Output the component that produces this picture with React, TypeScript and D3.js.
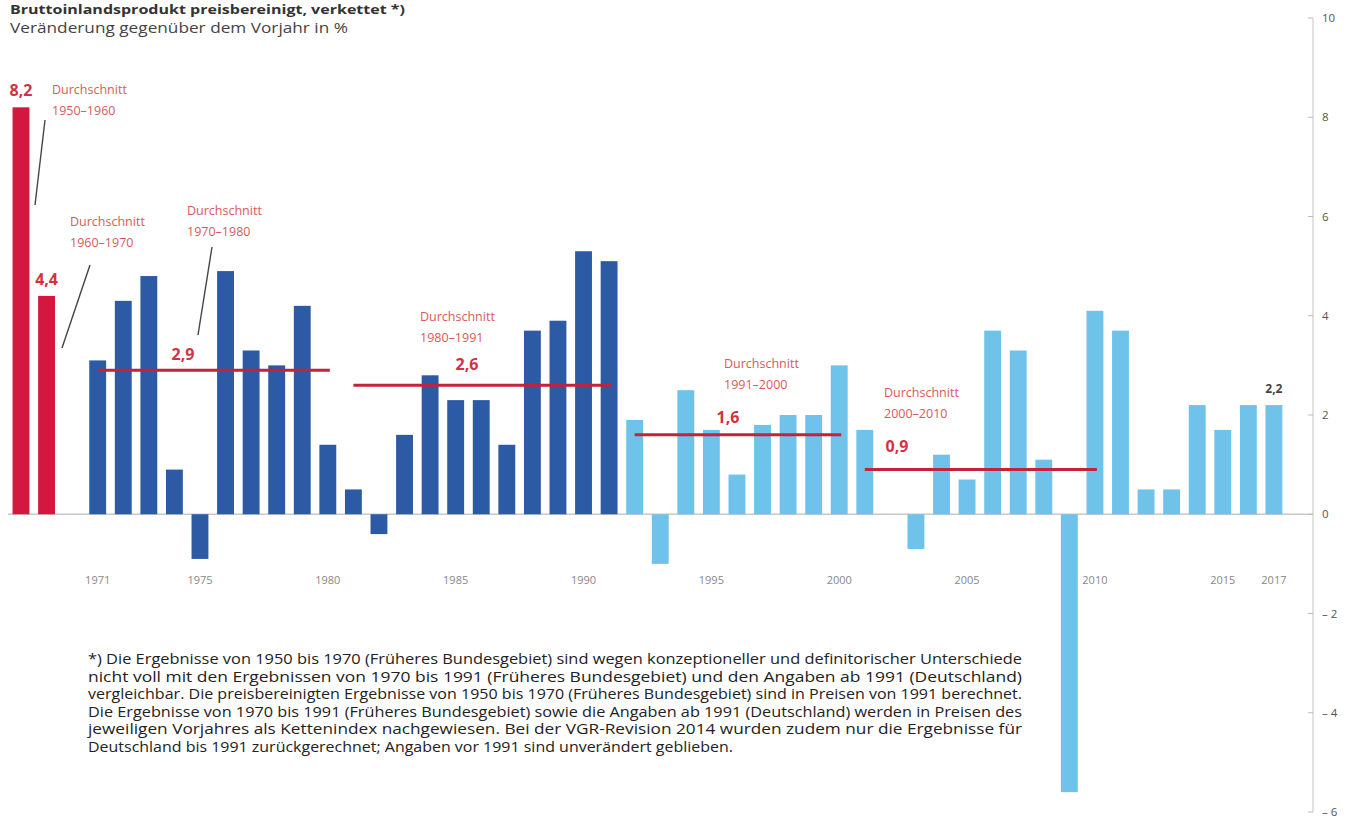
import * as d3 from 'd3';

// decade averages shown as the first two red bars
const earlyPeriods = ['1950–1960', '1960–1970'];
const earlyValues = [8.2, 4.4];

// yearly change in %, 1971–2017
const years = d3.range(1971, 2018).map(String);
const growth = [
  3.1, 4.3, 4.8, 0.9, -0.9, 4.9, 3.3, 3.0, 4.2, 1.4,
  0.5, -0.4, 1.6, 2.8, 2.3, 2.3, 1.4, 3.7, 3.9, 5.3,
  5.1, 1.9, -1.0, 2.5, 1.7, 0.8, 1.8, 2.0, 2.0, 3.0,
  1.7, 0.0, -0.7, 1.2, 0.7, 3.7, 3.3, 1.1, -5.6, 4.1,
  3.7, 0.5, 0.5, 2.2, 1.7, 2.2, 2.2,
];

// average lines
const avgPeriods = ['1970–1980', '1980–1991', '1991–2000', '2000–2010'];
const avgValues = [2.9, 2.6, 1.6, 0.9];
const avgFrom = ['1971', '1981', '1992', '2001'];
const avgTo = ['1980', '1991', '2000', '2010'];

const yTicks = [10, 8, 6, 4, 2, 0, -2, -4, -6];
const xTickYears = ['1971', '1975', '1980', '1985', '1990', '1995', '2000', '2005', '2010', '2015', '2017'];

const footnote = [
  '*) Die Ergebnisse von 1950 bis 1970 (Früheres Bundesgebiet) sind wegen konzeptioneller und definitorischer Unterschiede',
  'nicht voll mit den Ergebnissen von 1970 bis 1991 (Früheres Bundesgebiet) und den Angaben ab 1991 (Deutschland)',
  'vergleichbar. Die preisbereinigten Ergebnisse von 1950 bis 1970 (Früheres Bundesgebiet) sind in Preisen von 1991 berechnet.',
  'Die Ergebnisse von 1970 bis 1991 (Früheres Bundesgebiet) sowie die Angaben ab 1991 (Deutschland) werden in Preisen des',
  'jeweiligen Vorjahres als Kettenindex nachgewiesen. Bei der VGR-Revision 2014 wurden zudem nur die Ergebnisse für',
  'Deutschland bis 1991 zurückgerechnet; Angaben vor 1991 sind unverändert geblieben.',
];

const RED = '#d3173e';
const DARK = '#2d5aa5';
const LIGHT = '#6fc3ea';
const AVG = '#c4223a';
const LABEL_RED = '#d2323f';
const NOTE_RED = '#d65a5c';
const FONT = '"Open Sans", sans-serif';

// label placement (layout only)
const earlyLabelPos = [
  { vy: 96, tx: 52, ty: 94 },
  { vy: 285, tx: 70, ty: 226 },
];
const avgLabelPos = [
  { vx: 183, vy: 360, tx: 187, ty: 215 },
  { vx: 467, vy: 370, tx: 420, ty: 321 },
  { vx: 728, vy: 423, tx: 724, ty: 368 },
  { vx: 897, vy: 452, tx: 884, ty: 397 },
];
const leaders = [
  [45, 120, 35, 205],
  [90, 265, 62, 348],
  [212, 247, 198, 335],
];

export default function App() {
  const width = 1364;
  const height = 819;
  const categories = [...earlyPeriods, 'gap', ...years];

  const x = d3.scaleBand<string>()
    .domain(categories)
    .range([8.2, 1286.7])
    .paddingInner(0.34)
    .paddingOuter(0.17);
  const y = d3.scaleLinear().domain([-6, 10]).range([812, 18]);
  const bw = x.bandwidth();
  const cx = (k: string) => (x(k) ?? 0) + bw / 2;
  const axisX = 1313;

  const bars = [
    ...earlyPeriods.map((k, i) => ({ key: k, value: earlyValues[i], color: RED })),
    ...years.map((k, i) => ({ key: k, value: growth[i], color: +k <= 1991 ? DARK : LIGHT })),
  ];

  return (
    <svg width={width} height={height} style={{ position: 'absolute', left: 0, top: 0, background: '#fff' }} fontFamily={FONT}>
      {/* titles */}
      <text x={10} y={14} fontSize={13} fontWeight={700} fill="#333" textLength={395} lengthAdjust="spacingAndGlyphs">
        Bruttoinlandsprodukt preisbereinigt, verkettet *)
      </text>
      <text x={10} y={33} fontSize={15} fill="#444" textLength={338} lengthAdjust="spacingAndGlyphs">
        Veränderung gegenüber dem Vorjahr in %
      </text>

      {/* zero line */}
      <line x1={8} x2={axisX} y1={y(0)} y2={y(0)} stroke="#c8c8c8" strokeWidth={1.5} />

      {/* bars */}
      {bars.map(b => (
        <rect
          key={b.key}
          x={x(b.key)}
          y={y(Math.max(0, b.value))}
          width={bw}
          height={Math.abs(y(b.value) - y(0))}
          fill={b.color}
        />
      ))}

      {/* right axis */}
      <line x1={axisX} x2={axisX} y1={y(10)} y2={y(-6)} stroke="#cfcfcf" strokeWidth={1.2} />
      {yTicks.map(t => (
        <g key={t}>
          <line x1={axisX - 5} x2={axisX} y1={y(t)} y2={y(t)} stroke="#bbb" strokeWidth={1} />
          <text x={axisX + 9} y={y(t)} dy="0.35em" fontSize={11.5} fill="#555">
            {t < 0 ? `– ${Math.abs(t)}` : t}
          </text>
        </g>
      ))}

      {/* x labels */}
      {xTickYears.map(yr => (
        <text key={yr} x={cx(yr)} y={584} textAnchor="middle" fontSize={11} fill="#888">{yr}</text>
      ))}

      {/* early averages labels */}
      {earlyPeriods.map((p, i) => (
        <g key={p}>
          <text x={cx(p)} y={earlyLabelPos[i].vy} textAnchor="middle" fontSize={16} fontWeight={700} fill={LABEL_RED}>
            {String(earlyValues[i]).replace('.', ',')}
          </text>
          <text x={earlyLabelPos[i].tx} y={earlyLabelPos[i].ty} fontSize={12.5} fill={NOTE_RED}>
            <tspan x={earlyLabelPos[i].tx}>Durchschnitt</tspan>
            <tspan x={earlyLabelPos[i].tx} dy={21}>{p}</tspan>
          </text>
        </g>
      ))}

      {/* average lines */}
      {avgPeriods.map((p, i) => (
        <g key={p}>
          <line x1={cx(avgFrom[i])} x2={cx(avgTo[i]) + 2} y1={y(avgValues[i])} y2={y(avgValues[i])} stroke={AVG} strokeWidth={3} />
          <text x={avgLabelPos[i].vx} y={avgLabelPos[i].vy} textAnchor="middle" fontSize={16} fontWeight={700} fill={LABEL_RED}>
            {avgValues[i].toFixed(1).replace('.', ',')}
          </text>
          <text x={avgLabelPos[i].tx} y={avgLabelPos[i].ty} fontSize={12.5} fill={NOTE_RED}>
            <tspan x={avgLabelPos[i].tx}>Durchschnitt</tspan>
            <tspan x={avgLabelPos[i].tx} dy={21}>{p}</tspan>
          </text>
        </g>
      ))}

      {/* leader lines */}
      {leaders.map((l, i) => (
        <line key={i} x1={l[0]} y1={l[1]} x2={l[2]} y2={l[3]} stroke="#444" strokeWidth={1.4} />
      ))}

      {/* last value */}
      <text x={cx('2017')} y={y(growth[growth.length - 1]) - 12} textAnchor="middle" fontSize={12} fontWeight={700} fill="#444">
        {growth[growth.length - 1].toFixed(1).replace('.', ',')}
      </text>

      {/* footnote */}
      {footnote.map((line, i) => (
        <text
          key={i}
          x={88}
          y={664 + i * 17.5}
          fontSize={14}
          fill="#222"
          textLength={i === footnote.length - 1 ? 645 : 934}
          lengthAdjust="spacingAndGlyphs"
        >
          {line}
        </text>
      ))}
    </svg>
  );
}
